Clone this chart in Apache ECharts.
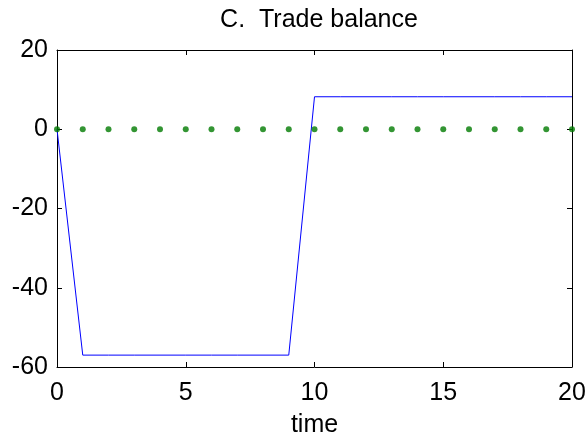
<!DOCTYPE html>
<html>
<head>
<meta charset="utf-8">
<script src="https://cdn.jsdelivr.net/npm/echarts@6/dist/echarts.min.js"></script>
<style>
  html, body { margin: 0; padding: 0; background: #fff; }
  #chart { width: 588px; height: 439px; }
</style>
</head>
<body>
<div id="chart"></div>
<script>
// Time steps and trade balance paths
const time = [0,1,2,3,4,5,6,7,8,9,10,11,12,13,14,15,16,17,18,19,20];
const tradeBalance = [0,-57,-57,-57,-57,-57,-57,-57,-57,-57,8.2,8.2,8.2,8.2,8.2,8.2,8.2,8.2,8.2,8.2,8.2];
const baseline = [0,0,0,0,0,0,0,0,0,0,0,0,0,0,0,0,0,0,0,0,0];
const xTicks = [0, 5, 10, 15, 20];
const yTicks = [-60, -40, -20, 0, 20];

const font = 'Liberation Sans, Arial, Helvetica, sans-serif';
const fs = 25;
const chart = echarts.init(document.getElementById('chart'), null, { renderer: 'canvas' });

const axisLine = { show: true, onZero: false, lineStyle: { color: '#000', width: 1 } };
const axisTick = { show: true, inside: true, length: 5, lineStyle: { color: '#000', width: 1 } };

chart.setOption({
  animation: false,
  backgroundColor: '#fff',
  title: {
    text: 'C.  Trade balance',
    left: 314, top: 3, textAlign: 'center',
    textStyle: { fontFamily: font, fontSize: fs, fontWeight: 'normal', color: '#000' }
  },
  grid: { left: 57, right: 16, top: 50, bottom: 72, outerBoundsMode: 'none', containLabel: false },
  xAxis: [
    {
      type: 'value', min: xTicks[0], max: xTicks[xTicks.length - 1], interval: 5,
      position: 'bottom',
      name: 'time', nameLocation: 'middle', nameGap: 46,
      nameTextStyle: { fontFamily: font, fontSize: fs, color: '#000' },
      axisLine, axisTick,
      axisLabel: { fontFamily: font, fontSize: fs, color: '#000', margin: 14 },
      splitLine: { show: false }
    },
    {
      type: 'value', min: xTicks[0], max: xTicks[xTicks.length - 1], interval: 5,
      position: 'top',
      axisLine, axisTick, axisLabel: { show: false }, splitLine: { show: false }
    }
  ],
  yAxis: [
    {
      type: 'value', min: yTicks[0], max: yTicks[yTicks.length - 1], interval: 20,
      position: 'left',
      axisLine, axisTick,
      axisLabel: { fontFamily: font, fontSize: fs, color: '#000', margin: 9 },
      splitLine: { show: false }
    },
    {
      type: 'value', min: yTicks[0], max: yTicks[yTicks.length - 1], interval: 20,
      position: 'right',
      axisLine, axisTick, axisLabel: { show: false }, splitLine: { show: false }
    }
  ],
  series: [
    {
      type: 'line',
      data: time.map((t, i) => [t, tradeBalance[i]]),
      showSymbol: false,
      lineStyle: { color: '#0000ff', width: 1 },
      z: 2
    },
    {
      type: 'scatter',
      data: time.map((t, i) => [t, baseline[i]]),
      symbol: 'circle', symbolSize: 6,
      itemStyle: { color: '#007a00' },
      z: 3
    }
  ]
});
</script>
</body>
</html>
